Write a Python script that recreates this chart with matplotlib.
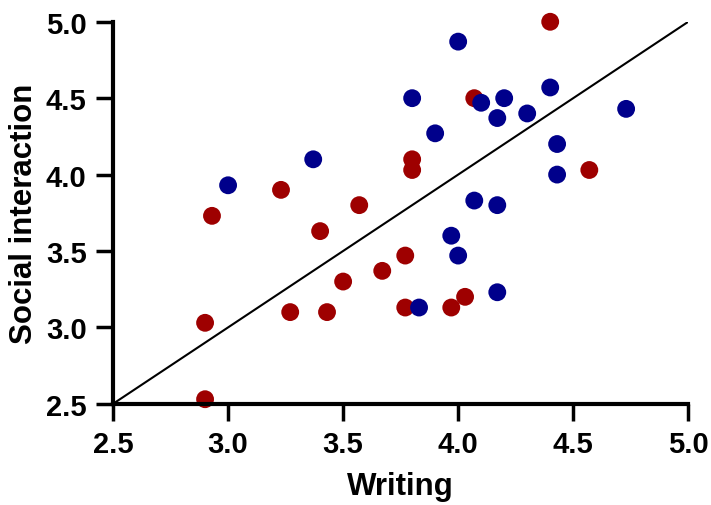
import matplotlib
matplotlib.use("Agg")
import matplotlib.pyplot as plt

plt.rcParams['font.family'] = ['Liberation Sans', 'DejaVu Sans']

blue_x = [3.00, 3.37, 3.80, 3.90, 4.00, 4.10, 4.17, 4.20, 4.30, 4.40, 4.43, 4.43, 4.73,
          4.07, 4.17, 3.97, 4.00, 3.83, 4.17]
blue_y = [3.93, 4.10, 4.50, 4.27, 4.87, 4.47, 4.37, 4.50, 4.40, 4.57, 4.20, 4.00, 4.43,
          3.83, 3.80, 3.60, 3.47, 3.13, 3.23]

red_x = [4.40, 4.07, 3.80, 3.80, 4.57, 3.23, 2.93, 3.57, 3.40, 3.77, 3.67, 3.50, 3.27,
         3.43, 3.77, 3.97, 4.03, 2.90, 2.90]
red_y = [5.00, 4.50, 4.10, 4.03, 4.03, 3.90, 3.73, 3.80, 3.63, 3.47, 3.37, 3.30, 3.10,
         3.10, 3.13, 3.13, 3.20, 3.03, 2.53]

ticks = [2.5, 3.0, 3.5, 4.0, 4.5, 5.0]
tick_labels = ["2.5", "3.0", "3.5", "4.0", "4.5", "5.0"]
line_x = [2.5, 5.0]
line_y = [2.5, 5.0]

fig = plt.figure(figsize=(7.11, 5.06), dpi=100)
ax = fig.add_axes([0.159, 0.2, 0.809, 0.755])

ax.plot(line_x, line_y, color='black', linewidth=1.5, zorder=1)
ax.scatter(red_x, red_y, s=165, color='#9e0000', edgecolors='none', zorder=2, clip_on=False)
ax.scatter(blue_x, blue_y, s=165, color='#00008b', edgecolors='none', zorder=3, clip_on=False)

ax.set_xlim(2.5, 5.0)
ax.set_ylim(2.5, 5.0)
ax.set_xticks(ticks)
ax.set_xticklabels(tick_labels)
ax.set_yticks(ticks)
ax.set_yticklabels(tick_labels)

for s in ['top', 'right']:
    ax.spines[s].set_visible(False)
for s in ['left', 'bottom']:
    ax.spines[s].set_linewidth(3)

ax.tick_params(axis='both', which='major', direction='out', length=12, width=2.5,
               labelsize=21, pad=7)
for lab in ax.get_xticklabels() + ax.get_yticklabels():
    lab.set_fontweight('bold')

ax.set_xlabel("Writing", fontsize=22.5, fontweight='bold', labelpad=9)
ax.set_ylabel("Social interaction", fontsize=22.5, fontweight='bold', labelpad=5)

fig.savefig("out.png", dpi=100)
